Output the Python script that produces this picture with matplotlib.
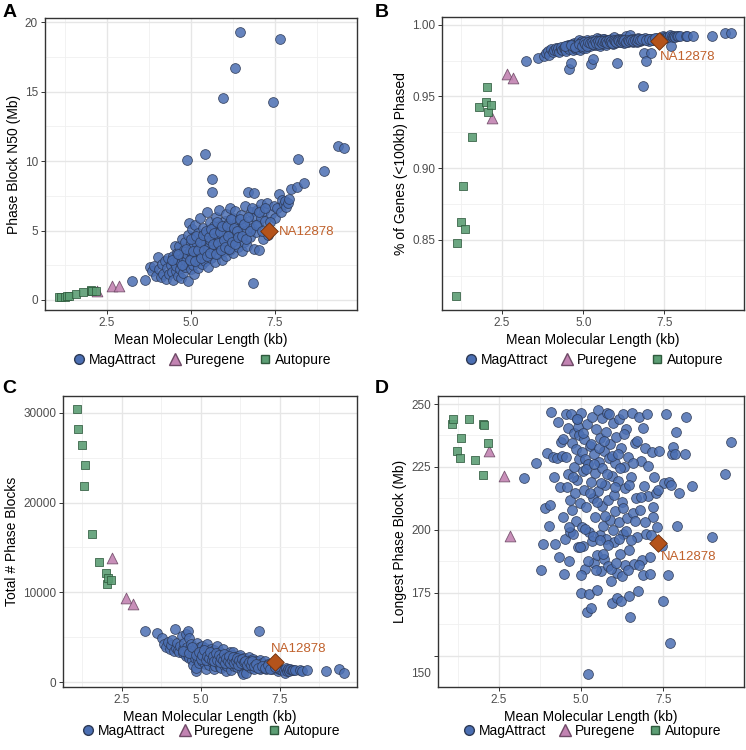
import numpy as np
import matplotlib.pyplot as plt
from matplotlib.lines import Line2D
from matplotlib.transforms import ScaledTranslation

plt.rcParams['font.family'] = ['Liberation Sans', 'DejaVu Sans']

# --- MagAttract samples (one entry per sample, same order in every list) ---
mag_len = [3.25, 3.62, 3.79, 3.85, 3.90, 3.96, 4.02, 4.06, 4.10, 4.15, 4.18, 4.22, 4.26, 4.30, 4.33, 4.36,
           4.40, 4.43, 4.46, 4.48, 4.51, 4.53, 4.55, 4.57, 4.59, 4.61, 4.63, 4.65, 4.67, 4.69, 4.71, 4.73,
           4.75, 4.77, 4.79, 4.81, 4.83, 4.85, 4.87, 4.88, 4.90, 4.92, 4.94, 4.95, 4.97, 4.99, 5.00, 5.02,
           5.03, 5.05, 5.07, 5.08, 5.10, 5.12, 5.13, 5.15, 5.17, 5.18, 5.20, 5.22, 5.23, 5.25, 5.27, 5.29,
           5.30, 5.32, 5.34, 5.36, 5.38, 5.40, 5.42, 5.43, 5.45, 5.47, 5.49, 5.50, 5.52, 5.54, 5.56, 5.58,
           5.60, 5.62, 5.64, 5.65, 5.67, 5.69, 5.71, 5.73, 5.75, 5.77, 5.79, 5.81, 5.83, 5.85, 5.87, 5.89,
           5.91, 5.93, 5.95, 5.97, 5.99, 6.01, 6.03, 6.04, 6.06, 6.08, 6.10, 6.12, 6.14, 6.16, 6.18, 6.20,
           6.22, 6.24, 6.26, 6.28, 6.30, 6.32, 6.34, 6.36, 6.39, 6.42, 6.45, 6.47, 6.50, 6.52, 6.55, 6.58,
           6.60, 6.63, 6.66, 6.69, 6.72, 6.75, 6.78, 6.82, 6.85, 6.87, 6.89, 6.92, 6.95, 6.98, 7.01, 7.04,
           7.08, 7.10, 7.14, 7.18, 7.22, 7.27, 7.31, 7.38, 7.45, 7.48, 7.52, 7.58, 7.63, 7.66, 7.70, 7.73,
           7.77, 7.80, 7.84, 7.88, 7.92, 7.98, 8.15, 8.20, 8.37, 8.97, 9.38, 9.55,
           4.45, 4.62, 4.74, 4.86, 4.96, 5.01, 5.06, 5.11, 5.16, 5.21, 5.26, 5.31, 5.35, 5.39, 5.44, 5.48,
           5.53, 5.57, 5.61, 5.66, 5.70, 5.74, 5.78, 5.82, 5.86, 5.90, 5.94, 5.98, 6.02, 6.07, 6.11, 6.15,
           6.19, 6.23, 6.27, 6.31, 6.37, 6.41, 6.46, 6.53, 6.59, 6.64, 6.70, 6.76, 6.81, 6.93, 7.03, 7.12,
           7.20, 7.35]
mag_n50 = [1.40, 1.44, 2.35, 2.10, 2.45, 1.75, 3.10, 2.20, 1.65, 2.60, 1.90, 2.80, 1.50, 2.30, 3.00, 1.85,
           2.55, 2.00, 3.20, 1.45, 2.75, 3.85, 2.10, 2.45, 3.40, 1.70, 2.90, 3.90, 2.25, 1.60, 2.65, 4.40,
           3.10, 1.95, 3.60, 2.40, 4.20, 2.80, 10.08, 3.30, 1.35, 4.70, 2.60, 5.57, 3.50, 2.20, 4.10, 3.00,
           5.10, 2.50, 3.80, 1.90, 4.50, 3.20, 5.40, 2.70, 4.00, 3.40, 2.30, 4.80, 3.70, 2.90, 5.90, 3.10,
           4.30, 2.60, 3.90, 5.20, 3.30, 4.60, 10.51, 2.80, 4.10, 6.30, 3.50, 4.90, 2.40, 3.80, 5.60, 4.30,
           3.00, 8.69, 7.80, 4.70, 3.60, 5.30, 2.70, 4.40, 6.00, 3.90, 5.00, 3.30, 4.60, 6.50, 3.70, 5.40,
           4.20, 2.90, 14.57, 4.90, 3.50, 5.70, 4.40, 3.20, 6.20, 4.80, 3.90, 5.50, 4.10, 6.60, 3.60, 5.00,
           4.50, 5.90, 3.40, 4.90, 6.40, 16.69, 4.30, 5.60, 3.80, 5.20, 19.32, 4.70, 6.10, 3.50, 5.40, 4.20,
           6.80, 5.00, 3.90, 7.80, 5.70, 4.50, 6.30, 5.20, 1.25, 3.70, 7.70, 6.00, 4.90, 6.50, 5.50, 3.60,
           6.90, 5.90, 4.40, 6.40, 5.70, 7.00, 4.70, 6.20, 14.28, 6.80, 5.90, 6.60, 7.60, 18.77, 6.30, 7.20,
           6.90, 7.10, 6.70, 6.95, 7.30, 7.97, 8.10, 10.15, 8.45, 9.29, 11.11, 10.97,
           2.90, 3.30, 2.50, 3.70, 2.90, 4.40, 3.50, 2.80, 4.60, 3.60, 4.20, 3.00, 4.70, 3.60, 5.00, 3.20,
           4.50, 3.40, 5.10, 4.00, 4.80, 3.30, 5.60, 4.10, 4.90, 3.60, 5.30, 4.30, 3.80, 5.30, 4.60, 3.70,
           5.80, 4.20, 5.20, 4.00, 5.00, 4.50, 5.80, 4.60, 5.50, 4.40, 6.00, 5.00, 6.60, 5.40, 6.30, 5.00,
           6.60, 5.60]
mag_genes = [0.9747, 0.9765, 0.9785, 0.9800, 0.9815, 0.9790, 0.9830, 0.9808, 0.9822, 0.9835, 0.9818, 0.9840,
             0.9812, 0.9830, 0.9845, 0.9825, 0.9838, 0.9828, 0.9850, 0.9815, 0.9842, 0.9860, 0.9832, 0.9689,
             0.9855, 0.9735, 0.9848, 0.9865, 0.9836, 0.9820, 0.9846, 0.9870, 0.9852, 0.9830, 0.9862, 0.9840,
             0.9874, 0.9850, 0.9890, 0.9858, 0.9825, 0.9880, 0.9845, 0.9885, 0.9865, 0.9838, 0.9875, 0.9860,
             0.9882, 0.9848, 0.9870, 0.9835, 0.9880, 0.9862, 0.9890, 0.9855, 0.9876, 0.9866, 0.9850, 0.9885,
             0.9870, 0.9724, 0.9893, 0.9760, 0.9880, 0.9856, 0.9874, 0.9888, 0.9866, 0.9884, 0.9905, 0.9860,
             0.9878, 0.9897, 0.9870, 0.9886, 0.9852, 0.9875, 0.9892, 0.9882, 0.9865, 0.9902, 0.9900, 0.9886,
             0.9874, 0.9890, 0.9860, 0.9883, 0.9895, 0.9877, 0.9888, 0.9870, 0.9885, 0.9898, 0.9876, 0.9891,
             0.9882, 0.9866, 0.9915, 0.9887, 0.9874, 0.9893, 0.9884, 0.9730, 0.9897, 0.9888, 0.9880, 0.9893,
             0.9883, 0.9900, 0.9876, 0.9890, 0.9886, 0.9896, 0.9874, 0.9889, 0.9900, 0.9920, 0.9885, 0.9895,
             0.9880, 0.9892, 0.9925, 0.9888, 0.9898, 0.9878, 0.9894, 0.9885, 0.9902, 0.9890, 0.9882, 0.9905,
             0.9896, 0.9888, 0.9900, 0.9893, 0.9573, 0.9801, 0.9906, 0.9749, 0.9892, 0.9902, 0.9897, 0.9883,
             0.9903, 0.9800, 0.9890, 0.9900, 0.9898, 0.9905, 0.9895, 0.9910, 0.9920, 0.9912, 0.9908, 0.9914,
             0.9916, 0.9925, 0.9853, 0.9918, 0.9915, 0.9920, 0.9917, 0.9919, 0.9921, 0.9922, 0.9920, 0.9924,
             0.9922, 0.9920, 0.9939, 0.9940,
             0.9848, 0.9855, 0.9842, 0.9866, 0.9852, 0.9878, 0.9868, 0.9854, 0.9882, 0.9870, 0.9878, 0.9862,
             0.9885, 0.9872, 0.9887, 0.9866, 0.9883, 0.9870, 0.9889, 0.9878, 0.9886, 0.9870, 0.9892, 0.9880,
             0.9888, 0.9875, 0.9890, 0.9883, 0.9878, 0.9891, 0.9886, 0.9877, 0.9895, 0.9884, 0.9891, 0.9882,
             0.9890, 0.9887, 0.9896, 0.9888, 0.9894, 0.9886, 0.9898, 0.9891, 0.9901, 0.9895, 0.9900, 0.9893,
             0.9904, 0.9900]
mag_blocks = [5700, 5450, 4960, 4200, 3900, 4500, 3700, 4100, 4700, 3500, 5930, 3800, 4400, 3600, 3300, 4000,
              5100, 3700, 3200, 4300, 3400, 2900, 5300, 3900, 3000, 5700, 4860, 2700, 3800, 4200, 3500, 2500,
              3300, 1900, 3000, 3700, 2700, 1270, 1600, 3200, 4300, 2400, 3600, 2100, 3100, 3900, 2800, 3300,
              2300, 4000, 2900, 3500, 2600, 3100, 2000, 3800, 2700, 1500, 4200, 2400, 3000, 3500, 1900, 3300,
              2600, 3700, 2800, 2200, 3200, 2500, 1500, 3600, 2700, 1800, 3100, 2300, 4000, 2900, 2100, 2600,
              3400, 1700, 1600, 2400, 3000, 2200, 3700, 2600, 1900, 2800, 2300, 1200, 2500, 1800, 2900, 2100,
              2700, 3400, 1300, 2300, 3000, 2000, 2500, 3300, 1800, 2300, 2800, 2000, 2600, 1700, 2900, 2200,
              2400, 1900, 3000, 2300, 1700, 1100, 850, 2000, 2700, 2100, 1000, 2300, 1800, 2800, 2000, 2400,
              1600, 2100, 2600, 1400, 1900, 2300, 1700, 2000, 5670, 2500, 1400, 1800, 2100, 1600, 1800, 2300,
              1500, 1700, 2000, 1600, 1700, 1450, 1900, 1550, 1200, 1400, 1500, 1350, 1300, 1000, 1600, 1250,
              1500, 1200, 1400, 1350, 1300, 1300, 1300, 1280, 1330, 1260, 1440, 1010,
              3500, 3200, 3900, 3000, 3400, 2600, 3000, 3600, 2500, 2900, 2700, 3400, 2400, 2900, 2300, 3200,
              2500, 3000, 2200, 2700, 2400, 3100, 2100, 2700, 2300, 2900, 2100, 2500, 2800, 2100, 2300, 2700,
              1900, 2500, 2100, 2600, 2200, 2300, 1900, 2200, 1900, 2300, 1800, 2000, 1600, 1800, 1600, 1900,
              1500, 1700]
mag_longest = [220.5, 226.5, 184.0, 194.5, 208.5, 230.5, 201.5, 210.0, 247.0, 229.0, 221.0, 194.5, 228.5, 243.0,
               189.0, 217.0, 235.0, 229.5, 205.0, 182.5, 196.5, 229.0, 246.0, 217.0, 222.0, 240.5, 187.5, 212.0,
               199.0, 246.0, 234.5, 208.0, 198.5, 225.0, 238.5, 214.5, 232.0, 203.5, 244.0, 220.0, 241.0, 193.0,
               228.0, 237.5, 210.5, 175.0, 246.5, 231.0, 201.0, 223.5, 193.5, 216.0, 236.0, 184.5, 228.0, 209.0,
               242.0, 167.5, 226.0, 142.7, 199.0, 174.5, 233.5, 169.0, 219.0, 195.5, 245.0, 212.5, 187.0, 230.0,
               222.5, 205.0, 240.0, 190.0, 176.0, 215.5, 247.5, 227.0, 198.0, 236.5, 183.5, 209.5, 224.5, 244.5,
               201.5, 231.5, 188.5, 218.0, 239.0, 196.5, 246.5, 212.0, 185.5, 228.5, 204.0, 234.0, 179.5, 221.5,
               171.0, 242.5, 214.0, 195.0, 226.5, 207.5, 237.0, 183.0, 173.0, 219.5, 244.0, 203.0, 190.5, 171.5,
               232.5, 211.0, 246.0, 198.5, 225.0, 186.0, 216.5, 240.0, 204.5, 229.0, 173.5, 192.0, 165.5, 221.0,
               246.5, 206.5, 186.5, 234.5, 212.5, 197.0, 175.5, 245.0, 208.0, 227.5, 188.0, 240.5, 182.0, 217.5,
               232.5, 198.5, 246.0, 213.5, 182.5, 189.0, 231.0, 205.0, 221.0, 214.5, 201.0, 231.5, 193.5, 171.5,
               218.5, 246.0, 182.0, 219.0, 155.0, 218.0, 230.0, 233.0, 230.0, 239.0, 201.5, 214.5, 230.0, 245.0,
               217.5, 197.0, 222.0, 235.0,
               236.0, 201.0, 221.0, 244.0, 193.0, 182.0, 238.5, 200.5, 224.0, 187.5, 214.5, 234.0, 197.5, 226.0,
               184.0, 211.0, 232.5, 196.0, 218.5, 190.5, 235.5, 205.5, 222.0, 194.0, 246.0, 184.5, 229.5, 200.0,
               217.0, 187.0, 230.0, 196.5, 224.5, 181.5, 208.5, 238.0, 199.5, 184.0, 218.0, 196.0, 226.5, 203.5,
               235.5, 186.0, 213.0, 203.0, 225.5, 198.0, 209.0, 216.0]

# --- Puregene samples ---
pure_len = [2.19, 2.65, 2.85]
pure_n50 = [0.62, 1.00, 1.00]
pure_genes = [0.9347, 0.9658, 0.9630]
pure_blocks = [13830, 9340, 8680]
pure_longest = [231.3, 221.4, 197.6]

# --- Autopure samples ---
auto_len = [1.08, 1.12, 1.24, 1.31, 1.36, 1.58, 1.78, 2.01, 2.03, 2.06, 2.16]
auto_n50 = [0.18, 0.20, 0.24, 0.28, 0.27, 0.45, 0.58, 0.66, 0.70, 0.64, 0.68]
auto_genes = [0.8105, 0.8475, 0.8621, 0.8877, 0.8573, 0.9219, 0.9423, 0.9461, 0.9568, 0.9389, 0.9442]
auto_blocks = [30400, 28210, 26430, 21800, 24170, 16500, 13350, 12160, 10930, 11640, 11350]
auto_longest = [242.1, 244.0, 231.3, 228.7, 236.4, 243.9, 227.8, 221.7, 242.1, 241.7, 234.4]

# --- reference sample ---
ref_name = 'NA12878'
ref_len = 7.34
ref_n50 = 4.98
ref_genes = 0.9883
ref_blocks = 2200
ref_longest = 194.7

BLUE = '#4b6fb3'
PINK = '#c283b2'
GREEN = '#5c9e74'
ORANGE = '#b4531b'
ORANGE_TXT = '#c0612c'

fig = plt.figure(figsize=(7.46, 7.5), dpi=100)

panels = [
    dict(letter='A', rect=[0.0603, 0.5867, 0.4182, 0.3893], ylabel='Phase Block N50 (Mb)',
         mag=mag_n50, pure=pure_n50, auto=auto_n50, ref=ref_n50,
         ylim=(-0.72, 20.3), yticks=[0, 5, 10, 15, 20], yminor=[2.5, 7.5, 12.5, 17.5],
         ylabels=['0', '5', '10', '15', '20'], lab=(7.62, 4.92),
         letter_xy=(0.003, 0.995), legend_y=0.52),
    dict(letter='B', rect=[0.5925, 0.5867, 0.4048, 0.3907], ylabel='% of Genes (<100kb) Phased',
         mag=mag_genes, pure=pure_genes, auto=auto_genes, ref=ref_genes,
         ylim=(0.801, 1.0054), yticks=[0.85, 0.90, 0.95, 1.00], yminor=[0.825, 0.875, 0.925, 0.975],
         ylabels=['0.85', '0.90', '0.95', '1.00'], lab=(7.37, 0.9776),
         letter_xy=(0.502, 0.995), legend_y=0.52),
    dict(letter='C', rect=[0.0845, 0.084, 0.3941, 0.388], ylabel='Total # Phase Blocks',
         mag=mag_blocks, pure=pure_blocks, auto=auto_blocks, ref=ref_blocks,
         ylim=(-556, 31880), yticks=[0, 10000, 20000, 30000], yminor=[5000, 15000, 25000],
         ylabels=['0', '10000', '20000', '30000'], lab=(7.22, 3700),
         letter_xy=(0.003, 0.493), legend_y=0.025),
    dict(letter='D', rect=[0.5871, 0.084, 0.4102, 0.388], ylabel='Longest Phase Block (Mb)',
         mag=mag_longest, pure=pure_longest, auto=auto_longest, ref=ref_longest,
         ylim=(137.5, 253.2), yticks=[150, 175, 200, 225, 250], yminor=[162.5, 187.5, 212.5, 237.5],
         ylabels=['150', '175', '200', '225', '250'], lab=(7.43, 189.1),
         letter_xy=(0.502, 0.493), legend_y=0.025),
]

for p in panels:
    ax = fig.add_axes(p['rect'])
    ax.set_axisbelow(True)
    ax.scatter(mag_len, p['mag'], s=50, marker='o', color=BLUE, alpha=0.85,
               edgecolors='#2e3a55', linewidths=0.6, zorder=2)
    ax.scatter(pure_len, p['pure'], s=60, marker='^', color=PINK, alpha=0.9,
               edgecolors='#6e4a66', linewidths=0.6, zorder=3)
    ax.scatter(auto_len, p['auto'], s=34, marker='s', color=GREEN, alpha=0.9,
               edgecolors='#2f5a3d', linewidths=0.6, zorder=4)
    ax.scatter([ref_len], [p['ref']], s=80, marker='D', color=ORANGE,
               edgecolors='#6b2e0c', linewidths=0.6, zorder=5)
    ax.text(p['lab'][0], p['lab'][1], ref_name, color=ORANGE_TXT, fontsize=9.5,
            ha='left', va='center', zorder=6)

    ax.set_xlim(0.65, 9.95)
    ax.set_ylim(*p['ylim'])
    ax.set_xticks([2.5, 5.0, 7.5])
    ax.set_xticklabels(['2.5', '5.0', '7.5'])
    ax.set_xticks([1.25, 3.75, 6.25, 8.75], minor=True)
    ax.set_yticks(p['yticks'])
    ax.set_yticklabels(p['ylabels'])
    ax.set_yticks(p['yminor'], minor=True)
    ax.grid(True, which='major', color='#e6e6e6', linewidth=1.0)
    ax.grid(True, which='minor', color='#f0f0f0', linewidth=0.6)
    ax.tick_params(which='minor', length=0)
    ax.tick_params(which='major', length=3, width=0.7, color='#333333',
                   labelsize=8.5, labelcolor='#4d4d4d', pad=2)
    for sp in ax.spines.values():
        sp.set_color('#333333')
        sp.set_linewidth(1.0)
    ax.set_xlabel('Mean Molecular Length (kb)', fontsize=10, labelpad=3)
    ax.set_ylabel(p['ylabel'], fontsize=10, labelpad=3)

    if p['letter'] == 'D':
        # the lowest label sits a little below its tick in the original
        lbl = ax.get_yticklabels()[0]
        lbl.set_transform(lbl.get_transform() + ScaledTranslation(0, -12 / 72, fig.dpi_scale_trans))

    fig.text(p['letter_xy'][0], p['letter_xy'][1], p['letter'],
             fontsize=14, fontweight='bold', va='top', ha='left')

    x0, y0, w, h = p['rect']
    handles = [
        Line2D([], [], marker='o', ls='', color=BLUE, markeredgecolor='#2e3a55', markersize=7, label='MagAttract'),
        Line2D([], [], marker='^', ls='', color=PINK, markeredgecolor='#6e4a66', markersize=8, label='Puregene'),
        Line2D([], [], marker='s', ls='', color=GREEN, markeredgecolor='#2f5a3d', markersize=6, label='Autopure'),
    ]
    fig.legend(handles=handles, loc='center', bbox_to_anchor=(x0 + w / 2, p['legend_y']), ncol=3,
               frameon=False, fontsize=10, handletextpad=0.1, columnspacing=0.8, handlelength=1.2,
               borderpad=0.1)

fig.savefig('out.png', dpi=100)
